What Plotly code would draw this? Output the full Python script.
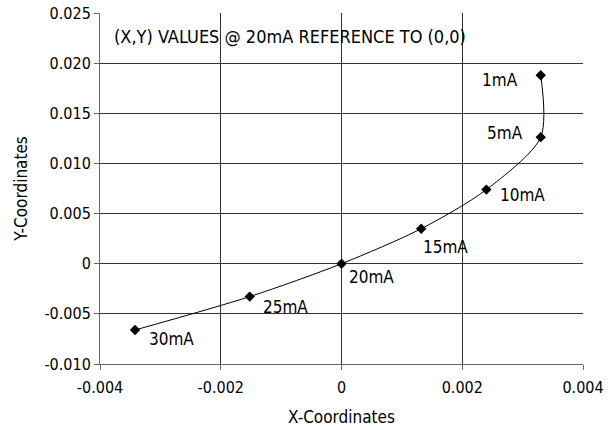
import plotly.graph_objects as go

# Data
labels = ["1mA", "5mA", "10mA", "15mA", "20mA", "25mA", "30mA"]
x_vals = [0.0033, 0.0033, 0.00240, 0.00132, 0.0, -0.00152, -0.00342]
y_vals = [0.0188, 0.01262, 0.00739, 0.00349, 0.0, -0.00328, -0.00661]

x_tickvals = [-0.004, -0.002, 0, 0.002, 0.004]
x_ticktext = ["-0.004", "-0.002", "0", "0.002", "0.004"]
y_tickvals = [0.025, 0.020, 0.015, 0.010, 0.005, 0, -0.005, -0.010]
y_ticktext = ["0.025", "0.020", "0.015", "0.010", "0.005", "0", "-0.005", "-0.010"]

# label offsets (pixels): (xshift, yshift, xanchor)
label_offsets = [(-21, -5, "right"), (-16, 4, "right"), (12, -5, "left"),
                 (0, -18, "left"), (5, -13, "left"), (11, -10, "left"), (12, -9, "left")]

FONT = "DejaVu Sans Condensed, Liberation Sans Narrow, Roboto, sans-serif"

fig = go.Figure()
fig.add_trace(go.Scatter(
    x=x_vals, y=y_vals, mode="lines+markers",
    line=dict(color="black", width=1, shape="spline", smoothing=0.8),
    marker=dict(symbol="diamond", size=8, color="black"),
    showlegend=False, hoverinfo="skip",
))

for lab, xv, yv, (dx, dy, anc) in zip(labels, x_vals, y_vals, label_offsets):
    fig.add_annotation(x=xv, y=yv, text=lab, showarrow=False,
                       xshift=dx, yshift=dy, xanchor=anc, yanchor="middle",
                       font=dict(family=FONT, size=17, color="black"))

fig.add_annotation(xref="paper", yref="paper", x=0.025, y=0.933,
                   text="(X,Y) VALUES @ 20mA REFERENCE TO (0,0)",
                   showarrow=False, xanchor="left", yanchor="middle",
                   font=dict(family=FONT, size=18, color="black"))

axis_common = dict(showgrid=True, gridcolor="#333333", gridwidth=1,
                   showline=True, linecolor="#666666", linewidth=1,
                   ticks="outside", ticklen=5, tickcolor="#666666",
                   zeroline=False, mirror=False, automargin=False,
                   tickfont=dict(family=FONT, size=16, color="black"))

fig.update_xaxes(range=[-0.004, 0.004], tickvals=x_tickvals, ticktext=x_ticktext,
                 ticklabelstandoff=4,
                 title=dict(text="X-Coordinates", font=dict(family=FONT, size=17, color="black"), standoff=14),
                 **axis_common)
fig.update_yaxes(range=[-0.010, 0.025], tickvals=y_tickvals, ticktext=y_ticktext,
                 title=dict(text="Y-Coordinates", font=dict(family=FONT, size=17, color="black"), standoff=12),
                 **axis_common)

fig.update_layout(
    width=614, height=430,
    margin=dict(l=100, r=31, t=13, b=66),
    plot_bgcolor="white", paper_bgcolor="white",
    font=dict(family=FONT),
)

fig.write_html("out.html", config={"displayModeBar": False},
               post_script="document.body.style.margin='0';")
